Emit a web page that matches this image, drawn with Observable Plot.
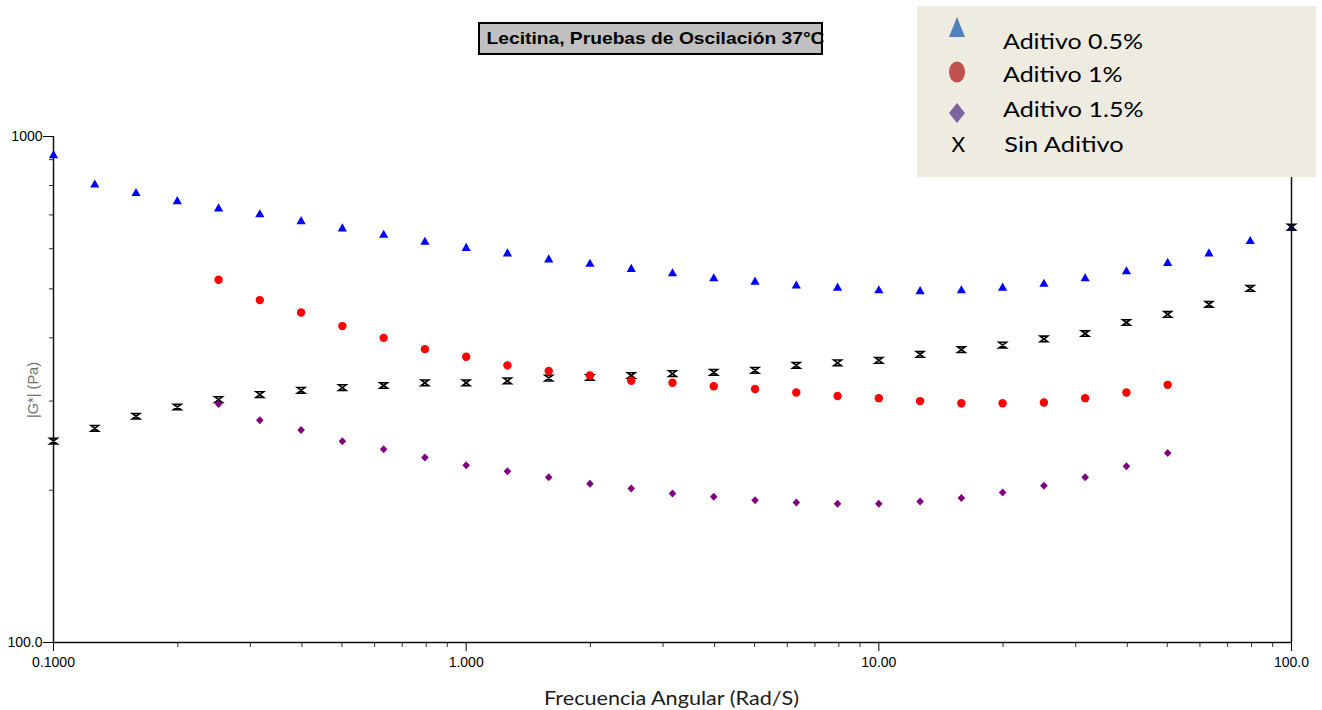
<!DOCTYPE html>
<html><head><meta charset="utf-8">
<script src="https://cdn.jsdelivr.net/npm/d3@7"></script>
<script src="https://cdn.jsdelivr.net/npm/@observablehq/plot@0.6"></script>
<style>
body{margin:0;background:#fff;}
#wrap{position:relative;width:1322px;height:710px;overflow:hidden;}
#chart{position:absolute;left:0;top:0;}
#overlay{position:absolute;left:0;top:0;pointer-events:none;}
</style></head>
<body>
<div id="wrap"><div id="chart"></div>
<svg id="overlay" width="1322" height="710" xmlns="http://www.w3.org/2000/svg">
  <rect x="479" y="23" width="343" height="31" fill="#c0c0c0" stroke="#000" stroke-width="2"/>
  <text x="486.5" y="44.3" font-family="Liberation Sans, Arial, sans-serif" font-weight="bold" font-size="17" textLength="338" lengthAdjust="spacingAndGlyphs" fill="#000">Lecitina, Pruebas de Oscilación 37°C</text>
  <rect x="917" y="6" width="399" height="171" fill="#eeebe0"/>
  <path d="M957,17 L965,37 L949,37 Z" fill="#4f81bd"/>
  <ellipse cx="957" cy="72" rx="8" ry="10.5" fill="#c0504d"/>
  <path d="M957,103 L965,113 L957,123 L949,113 Z" fill="#8064a2"/>
  <text x="958.3" y="151.7" text-anchor="middle" font-family="Lato, sans-serif" font-size="21" fill="#000">X</text>
  <g font-family="Lato, sans-serif" font-size="21" fill="#000">
    <text x="1003" y="48.5" textLength="140" lengthAdjust="spacingAndGlyphs">Aditivo 0.5%</text>
    <text x="1003" y="82.3" textLength="119.6" lengthAdjust="spacingAndGlyphs">Aditivo 1%</text>
    <text x="1003" y="117" textLength="140.6" lengthAdjust="spacingAndGlyphs">Aditivo 1.5%</text>
    <text x="1004.3" y="151.7" textLength="119.4" lengthAdjust="spacingAndGlyphs">Sin Aditivo</text>
  </g>
  <text x="544" y="705" font-family="Lato, sans-serif" font-size="20" fill="#1a1a1a" textLength="255" lengthAdjust="spacingAndGlyphs">Frecuencia Angular (Rad/S)</text>
  <text transform="translate(38,390) rotate(-90)" text-anchor="middle" font-family="Liberation Sans, Arial, sans-serif" font-size="14" fill="#707070" textLength="56" lengthAdjust="spacingAndGlyphs">|G*| (Pa)</text>
</svg>
</div>
<script>
// Angular frequency (rad/s)
const freq = [0.1,0.1259,0.1585,0.1995,0.2512,0.3162,0.3981,0.5012,0.631,0.7943,
  1.0,1.259,1.585,1.995,2.512,3.162,3.981,5.012,6.31,7.943,
  10.0,12.59,15.85,19.95,25.12,31.62,39.81,50.12,63.1,79.43,100.0];
// |G*| (Pa) per series
const aditivo05 = [921,806,775,747,723,704,682,660,641,621,604,589,573,562,549,538,526,518,509,504,498,496,498,504,513,526,543,564,589,623,662];
const aditivo1 = [521,475,449,422,400,380,367,353,344,337,329,326,321,317,312,307,304,300,297,297,298,304,312,323]; // from freq[4]
const aditivo15 = [296,275,263,250,241,232,224,218,212,206,201.5,197,194,191,189,188,188,190,193,198,204,212,223,237]; // from freq[4]
const sinAditivo = [250,265,280,292,302,309,315,319,322,326,326,329,333,334,337,340,342,345,353,357,361,371,379,387,398,408,429,445,466,501,662];
const startIndexAditivo = 4;

const xMajor = [0.1, 1, 10, 100];
const xMajorLabels = ["0.1000", "1.000", "10.00", "100.0"];
const xMinor = [0.2,0.3,0.4,0.5,0.6,0.7,0.8,0.9,2,3,4,5,6,7,8,9,20,30,40,50,60,70,80,90];
const yMajor = [100, 1000];
const yMajorLabels = ["100.0", "1000"];
const yMinor = [200,300,400,500,600,700,800,900];

const xLab = new Map(xMajor.map((d,i)=>[d, xMajorLabels[i]]));
const yLab = new Map(yMajor.map((d,i)=>[d, yMajorLabels[i]]));

const d05 = freq.map((f,i)=>({f, g: aditivo05[i]}));
const d0 = freq.map((f,i)=>({f, g: sinAditivo[i]}));
const d1 = aditivo1.map((g,i)=>({f: freq[i+startIndexAditivo], g}));
const d15 = aditivo15.map((g,i)=>({f: freq[i+startIndexAditivo], g}));

const triSym = {draw(c){c.moveTo(0,-4.5);c.lineTo(4.6,3.6);c.lineTo(-4.6,3.6);c.closePath();}};
const diaSym = {draw(c){c.moveTo(0,-4);c.lineTo(3.8,0);c.lineTo(0,4);c.lineTo(-3.8,0);c.closePath();}};
const hourSym = {draw(c){c.moveTo(-3.8,-2.8);c.lineTo(3.8,-2.8);c.lineTo(-3.8,2.8);c.lineTo(3.8,2.8);c.closePath();}};

const chart = Plot.plot({
  width: 1322, height: 710,
  marginLeft: 53, marginRight: 31, marginTop: 136, marginBottom: 68,
  x: {type: "log", domain: [0.1, 100]},
  y: {type: "log", domain: [100, 1000]},
  style: {fontFamily: "'Liberation Sans', Arial, sans-serif", fontSize: "14px", color: "#000", background: "#fff"},
  marks: [
    Plot.axisX({ticks: xMinor, tickSize: 5, tickFormat: () => "", label: null, stroke: "#333"}),
    Plot.axisX({ticks: xMajor, tickSize: 9, tickPadding: 6, tickFormat: d => xLab.get(d), label: null, fontSize: 14, stroke: "#000"}),
    Plot.axisY({ticks: yMinor, tickSize: 4, tickFormat: () => "", label: null, stroke: "#333"}),
    Plot.axisY({ticks: yMajor, tickSize: 10, tickPadding: 1, tickFormat: d => yLab.get(d), label: null, fontSize: 14, stroke: "#000"}),
    Plot.ruleY([100], {stroke: "#111", strokeWidth: 1.5}),
    Plot.ruleX([0.1, 100], {stroke: "#111", strokeWidth: 1.5}),
    Plot.dot(d05, {x: "f", y: "g", symbol: triSym, fill: "#0000ff", stroke: "none"}),
    Plot.dot(d0, {x: "f", y: "g", symbol: hourSym, fill: "none", stroke: "#000", strokeWidth: 1.6}),
    Plot.dot(d1, {x: "f", y: "g", r: 4.2, fill: "#ff0000", stroke: "none"}),
    Plot.dot(d15, {x: "f", y: "g", symbol: diaSym, fill: "#800080", stroke: "none"})
  ]
});
document.getElementById("chart").appendChild(chart);
</script>
</body></html>
